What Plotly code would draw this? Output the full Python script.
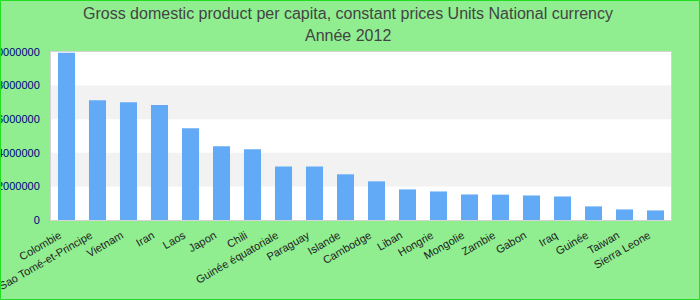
import plotly.graph_objects as go

countries = ["Colombie", "Sao Tomé-et-Principe", "Vietnam", "Iran", "Laos", "Japon", "Chili",
             "Guinée équatoriale", "Paraguay", "Islande", "Cambodge", "Liban", "Hongrie",
             "Mongolie", "Zambie", "Gabon", "Iraq", "Guinée", "Taiwan", "Sierra Leone"]
values = [9950000, 7130000, 7010000, 6840000, 5460000, 4390000, 4210000,
          3190000, 3180000, 2720000, 2300000, 1820000, 1700000,
          1520000, 1510000, 1460000, 1400000, 810000, 630000, 570000]
tick_vals = [0, 2000000, 4000000, 6000000, 8000000, 10000000]
tick_text = ["0", "2000000", "4000000", "6000000", "8000000", "10000000"]
title_line1 = "Gross domestic product per capita, constant prices Units National currency"
title_line2 = "Année 2012"

W, H = 700, 300
ML, MR, MT, MB = 51, 29, 52, 80
pw, ph = W - ML - MR, H - MT - MB

fig = go.Figure()
fig.add_trace(go.Bar(x=countries, y=values, marker=dict(color="#62AAF5", line=dict(width=0)),
                     width=0.55, hoverinfo="x+y"))

shapes = []
for i in range(len(tick_vals) - 1):
    if i % 2 == 1:
        shapes.append(dict(type="rect", xref="paper", yref="y", x0=0, x1=1,
                           y0=tick_vals[i], y1=tick_vals[i + 1],
                           fillcolor="#f2f2f2", line=dict(width=0), layer="below"))
shapes.append(dict(type="rect", xref="paper", yref="paper",
                   x0=(-ML + 0.5) / pw, x1=(W - ML - 0.5) / pw,
                   y0=(-MB + 0.5) / ph, y1=(H - MB - 0.5) / ph,
                   line=dict(color="#22dd22", width=1), fillcolor="rgba(0,0,0,0)"))

title_font = dict(size=16, color="#444444", family="Liberation Sans, Arial, sans-serif")
title_x = (348 - ML) / pw
annotations = [
    dict(text=title_line1, xref="paper", yref="paper", x=title_x, y=(H - MB - 14) / ph,
         xanchor="center", yanchor="middle", showarrow=False, font=title_font),
    dict(text=title_line2, xref="paper", yref="paper", x=title_x, y=(H - MB - 36) / ph,
         xanchor="center", yanchor="middle", showarrow=False, font=title_font),
]

fig.update_layout(
    width=W, height=H,
    margin=dict(l=ML, r=MR, t=MT, b=MB, pad=0, autoexpand=False),
    paper_bgcolor="#90EE90",
    plot_bgcolor="#ffffff",
    font=dict(family="Liberation Sans, Arial, sans-serif"),
    showlegend=False,
    bargap=0.45,
    shapes=shapes,
    annotations=annotations,
    xaxis=dict(tickangle=-30, tickfont=dict(size=11, color="#222222"), automargin=False,
               ticklabelshift=-7, ticklabelstandoff=4,
               showline=True, linecolor="#d4d4d4", linewidth=1, mirror=True,
               showgrid=False, ticks="", fixedrange=True),
    yaxis=dict(range=[0, 10000000], tickvals=tick_vals, ticktext=tick_text, automargin=False,
               tickfont=dict(size=11, color="#000080"),
               showline=True, linecolor="#d4d4d4", linewidth=1, mirror=True,
               showgrid=False, zeroline=False, ticks="outside", ticklen=8,
               tickcolor="rgba(0,0,0,0)", fixedrange=True),
)

fig.write_html("out.html", config={"displayModeBar": False})
